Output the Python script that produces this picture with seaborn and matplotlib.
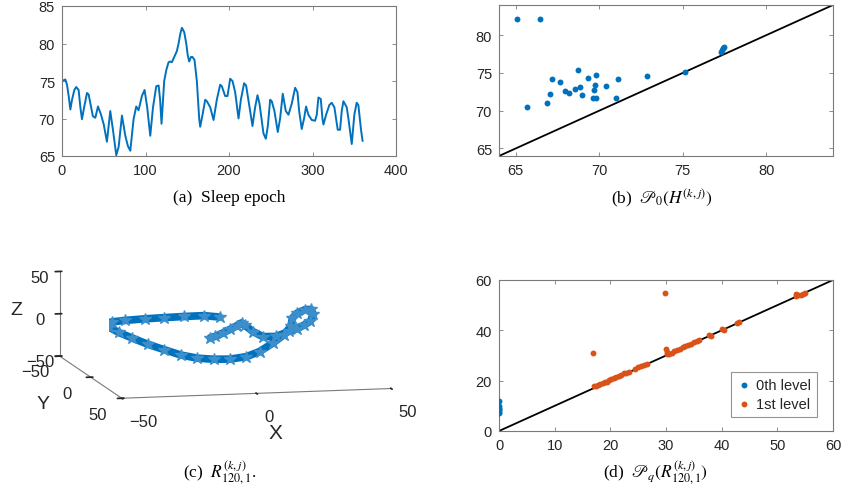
import numpy as np
import pandas as pd
import matplotlib
matplotlib.use("Agg")
import matplotlib.pyplot as plt
import seaborn as sns

# ---- data ----
# (a) sleep epoch signal
epoch_t = [0, 2, 4, 6, 8, 10, 12, 14.8, 17, 19.9, 22, 23.9, 26.7, 29.9, 31.9, 34.7,
           37, 39.9, 43.1, 46.5, 50, 53.8, 57.8, 61, 65, 67.8, 71.8, 75.8, 79, 81.8,
           85.7, 88.9, 91.7, 95.7, 98.9, 102, 105.7, 109, 112.9, 115.7, 117.5, 119.2,
           122.4, 125, 127.6, 129.6, 131.6, 134.4, 137.6, 139.6, 141.5, 143.6, 146.4,
           148.8, 150.5, 152.3, 154.5, 156.3, 158.7, 161.5, 164.3, 165.5, 168.3, 171.5,
           173.5, 177.5, 181.5, 185.4, 189.4, 191.4, 195.4, 198.2, 201.4, 204.2, 207.4,
           211.4, 214.2, 218.1, 220.5, 225.3, 228.1, 231.3, 234.1, 236.5, 241.3, 244.1,
           246.5, 249.3, 251.2, 254.4, 258.4, 261.2, 264.4, 268, 271.2, 275.2, 279.2,
           282, 284, 287.1, 289.9, 292.3, 295.1, 299.1, 303.1, 305.1, 307.1, 309.9,
           311.9, 313.1, 316.3, 320.2, 323, 326.2, 330.2, 333, 335, 337, 341, 343,
           347, 350.1, 352.9, 354.9, 358.1, 360]
epoch_hr = [75.0, 75.1, 75.2, 74.5, 73.0, 71.2, 72.5, 73.8, 74.2, 73.8, 71.5, 69.9, 71.6, 73.4, 73.2, 71.6,
            70.3, 70.1, 71.6, 70.6, 69.2, 66.9, 71.0, 68.5, 65.1, 66.2, 70.4, 67.7, 66.3, 65.7,
            69.9, 71.6, 71.1, 73.0, 73.8, 71.5, 67.7, 71.5, 74.3, 74.4, 72.5, 69.3,
            75.0, 76.5, 77.5, 77.6, 77.5, 78.2, 79.0, 80.0, 81.2, 82.1, 81.5,
            80.0, 78.5, 77.6, 78.2, 78.2, 77.8, 75.0, 70.0, 68.9, 70.5, 72.5,
            72.3, 71.5, 69.8, 72.5, 74.5, 74.3, 73.0, 73.0, 75.3, 75.0, 73.5,
            70.0, 72.5, 74.7, 74.4, 71.0, 69.0, 71.5, 73.1, 72.0, 68.0, 67.3,
            69.0, 72.5, 72.3, 71.0, 68.2, 70.0, 73.3, 71.0, 70.5, 72.0, 74.1,
            73.5, 71.0, 68.6, 70.0, 71.6, 70.5, 69.8, 69.7, 70.5, 72.8, 72.6,
            70.0, 69.2, 70.5, 71.8, 72.1, 71.5, 68.5, 68.5, 71.0, 72.3, 71.5, 70.0,
            66.6, 70.5, 72.1, 71.8, 68.5, 67.0]

# (b) persistence points of H
pb_birth = [65.06, 66.47, 65.66, 66.87, 67.07, 67.19, 67.65, 67.97, 68.19, 68.55, 68.75,
            68.87, 68.99, 69.30, 69.60, 69.80, 69.66, 69.76, 69.80, 70.42, 71.00, 71.10,
            72.89, 75.11, 77.28, 77.36, 77.44, 77.46]
pb_death = [82.15, 82.15, 70.49, 71.02, 72.21, 74.15, 73.76, 72.61, 72.39, 72.87, 75.35,
            73.18, 72.12, 74.38, 71.64, 71.64, 72.70, 73.45, 74.68, 73.27, 71.68, 74.15,
            74.60, 75.17, 77.77, 78.04, 78.30, 78.44]

# (c) embedded trajectory R
traj_x = [-2.1, -8.0, -15.3, -22.6, -29.9, -37.2, -42.0, -44.2, -43.2, -39.6, -34.7,
          -28.6, -22.6, -16.5, -10.4, -4.3, 1.8, 7.8, 12.7, 17.6, 21.8, 24.3, 24.9,
          26.7, 29.7, 31.9, 32.6, 31.6, 29.1, 26.7, 23.7, 18.8, 13.9, 10.3, 7.2, 6.0,
          4.2, 1.8, -0.7, -3.7, -5.6]
traj_y = [0] * len(traj_x)
traj_z = [15.5, 17.9, 17.7, 17.2, 16.6, 15.6, 14.4, 13.1, 8.3, 1.7, -5.4,
          -13.8, -20.8, -27.7, -32.1, -34.1, -34.6, -32.4, -26.9, -17.6, -8.0, 1.5, 11.2,
          17.0, 20.7, 20.6, 14.6, 6.8, 2.3, -1.4, -4.3, -9.8, -9.4, -3.2, 4.9, 7.7,
          4.4, 0.7, -3.1, -7.1, -8.6]

# (d) persistence points of R
d0_birth = [0, 0, 0, 0, 0, 0, 0]
d0_death = [11.9, 9.9, 9.3, 8.7, 8.2, 7.6, 7.1]
d1_birth = [16.9, 29.9, 17.0, 17.4, 17.8, 18.2, 18.6, 19.0, 19.4, 19.8, 20.2, 20.6, 21.0,
            21.5, 22.0, 22.4, 22.8, 23.4, 24.5, 25.0, 25.5, 26.0, 26.5,
            30.0, 30.1, 30.2, 30.5, 31.0, 31.5, 32.0, 32.5, 33.0, 33.5, 34.0, 34.5, 35.0,
            35.5, 36.0, 37.8, 38.1, 40.0, 40.4, 42.8, 43.2,
            53.3, 53.4, 53.8, 54.2, 54.6, 55.0]
d1_death = [30.9, 54.7, 17.8, 18.0, 18.2, 18.6, 19.0, 19.3, 19.6, 20.2, 20.8, 21.0, 21.3,
            21.8, 22.4, 22.9, 23.0, 23.6, 24.8, 25.4, 25.8, 26.3, 26.7,
            32.5, 31.2, 30.5, 30.4, 31.0, 31.6, 32.0, 32.6, 33.2, 33.6, 34.0, 34.5, 35.2,
            35.8, 36.0, 38.0, 37.8, 40.5, 40.3, 42.9, 43.2,
            54.3, 53.6, 53.9, 54.2, 54.6, 55.0]
level_names = ["0th level", "1st level"]

BLUE = "#0072BD"
ORANGE = "#D95319"
EDGE = "#7a7a7a"
TXT = "#262626"

sns.set_theme(style="white")
plt.rcParams["font.family"] = ["Liberation Sans", "DejaVu Sans"]
plt.rcParams["mathtext.fontset"] = "stix"

fig = plt.figure(figsize=(8.43, 5.02), dpi=100)


def matlab_box(ax):
    for sp in ax.spines.values():
        sp.set_visible(True)
        sp.set_color(EDGE)
        sp.set_linewidth(0.8)
    ax.tick_params(direction="in", length=3, width=0.6, color=EDGE,
                   labelcolor=TXT, labelsize=10.5, top=True, right=True,
                   bottom=True, left=True, pad=5)
    ax.set_xlabel("")
    ax.set_ylabel("")


# (a)
ax_a = fig.add_axes([62 / 843, 1 - 157 / 502, 334 / 843, 150 / 502])
sns.lineplot(x=epoch_t, y=epoch_hr, ax=ax_a, color=BLUE, linewidth=1.4, estimator=None)
ax_a.set_xlim(0, 400)
ax_a.set_ylim(65, 85)
ax_a.set_xticks([0, 100, 200, 300, 400])
ax_a.set_yticks([65, 70, 75, 80, 85])
matlab_box(ax_a)

# (b)
ax_b = fig.add_axes([499 / 843, 1 - 157 / 502, 334 / 843, 151 / 502])
ax_b.axline((64, 64), slope=1, color="black", linewidth=1.3)
sns.scatterplot(x=pb_birth, y=pb_death, ax=ax_b, color=BLUE, s=18, linewidth=0, zorder=3)
ax_b.set_xlim(64, 84)
ax_b.set_ylim(64, 84)
ax_b.set_xticks([65, 70, 75, 80])
ax_b.set_yticks([65, 70, 75, 80])
matlab_box(ax_b)

# (d)
ax_d = fig.add_axes([499 / 843, 1 - 432 / 502, 334 / 843, 151 / 502])
ax_d.axline((0, 0), slope=1, color="black", linewidth=1.3)
sns.scatterplot(x=d0_birth, y=d0_death, ax=ax_d, color=BLUE, s=18, linewidth=0,
                label=level_names[0], zorder=3, legend=False)
sns.scatterplot(x=d1_birth, y=d1_death, ax=ax_d, color=ORANGE, s=18, linewidth=0,
                label=level_names[1], zorder=3, legend=False)
ax_d.set_xlim(0, 60)
ax_d.set_ylim(0, 60)
ax_d.set_xticks(range(0, 61, 10))
ax_d.set_yticks(range(0, 61, 20))
matlab_box(ax_d)
handles, labels = ax_d.get_legend_handles_labels()
leg = ax_d.legend(handles, labels, loc="lower right", bbox_to_anchor=(0.952, 0.093),
                  borderaxespad=0, frameon=True, fancybox=False, fontsize=10.5,
                  handletextpad=0.3, handlelength=1.0, borderpad=0.4, labelspacing=0.35)
leg.get_frame().set_edgecolor(EDGE)
leg.get_frame().set_linewidth(0.8)
for t in leg.get_texts():
    t.set_color(TXT)

# (c) 3D trajectory
ax_c = fig.add_axes([0.0137, 0.1096, 0.50, 0.45], projection="3d")
ax_c.patch.set_alpha(0)
ax_c.plot(traj_x, traj_y, traj_z, color=BLUE, linewidth=5.5, marker="*",
          markersize=9, markerfacecolor="#3d8fcc", markeredgecolor="#3d8fcc")
ax_c.set_proj_type("ortho")
ax_c.view_init(elev=9, azim=-103)
ax_c.set_xlim(-50, 50)
ax_c.set_ylim(50, -50)
ax_c.set_zlim(-50, 50)
ax_c.set_xticks([-50, 0, 50])
ax_c.set_yticks([-50, 0, 50])
ax_c.set_zticks([-50, 0, 50])
ax_c.set_box_aspect((1, 1, 0.31), zoom=1.72)
ax_c.grid(False)
for axis in (ax_c.xaxis, ax_c.yaxis, ax_c.zaxis):
    axis.set_pane_color((1, 1, 1, 0))
    axis.pane.set_edgecolor((1, 1, 1, 0))
    axis.line.set_color(EDGE)
    axis.line.set_linewidth(0.8)
ax_c.tick_params(labelsize=12, colors=TXT)
ax_c.xaxis.set_tick_params(pad=2.5)
ax_c.yaxis.set_tick_params(pad=-0.5)
ax_c.zaxis.set_tick_params(pad=-3)
ax_c.set_xlabel("X", fontsize=15, color=TXT, labelpad=5)
ax_c.set_ylabel("\nY", fontsize=14, color=TXT, labelpad=-6)
ax_c.set_zlabel("Z", fontsize=14, color=TXT, labelpad=-10)

# captions
cap = dict(ha="center", va="center", fontsize=12.5, family="Liberation Serif", color="black")
fig.text(229 / 843, 1 - 198 / 502, "(a)  Sleep epoch", **cap)
fig.text(662 / 843, 1 - 198 / 502, r"(b)  $\mathscr{P}_0(H^{(k,j)})$", **cap)
fig.text(220 / 843, 1 - 472 / 502, r"(c)  $R^{(k,j)}_{120,1}$.", **cap)
fig.text(656 / 843, 1 - 472 / 502, r"(d)  $\mathscr{P}_q(R^{(k,j)}_{120,1})$", **cap)

fig.canvas.draw()
for lbl in ax_c.get_xticklabels():
    lbl.set_horizontalalignment("left")

fig.savefig("out.png", dpi=100)
